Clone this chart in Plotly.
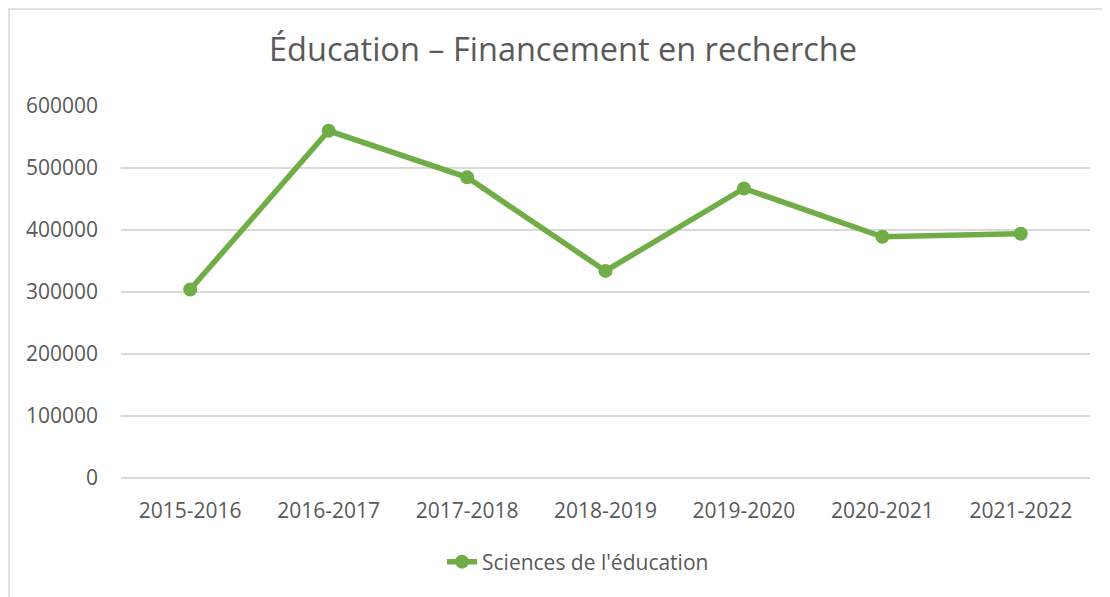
import plotly.graph_objects as go

categories = ["2015-2016", "2016-2017", "2017-2018", "2018-2019", "2019-2020", "2020-2021", "2021-2022"]
values = [304000, 560000, 485000, 334000, 467000, 389000, 394000]
series_name = "Sciences de l'éducation"
title_text = "Éducation – Financement en recherche"
y_ticks = [0, 100000, 200000, 300000, 400000, 500000, 600000]

GREEN = "#70AD47"
TXT = "#595959"
GRID = "#D9D9D9"
FONT = "Open Sans"

W, H = 1110, 597
L, R, T, B = 113, 28, 98, 127
PW, PH = W - L - R, H - T - B

fig = go.Figure()
fig.add_trace(go.Scatter(
    x=categories, y=values, mode="lines+markers", name=series_name,
    line=dict(color=GREEN, width=5.5),
    marker=dict(color=GREEN, size=14),
))

fig.update_layout(
    width=W, height=H,
    margin=dict(l=L, r=R, t=T, b=B, autoexpand=False),
    paper_bgcolor="white", plot_bgcolor="white",
    title=dict(text=title_text, x=0.5, xanchor="center", xref="container",
               y=1 - 42/H, yanchor="middle", yref="container",
               font=dict(family=FONT, size=32.5, color=TXT)),
    font=dict(family=FONT, color=TXT, size=21),
    showlegend=True,
    legend=dict(orientation="h", x=(570 - L)/PW, xanchor="center",
                y=-(554 - 470)/PH, yanchor="middle",
                font=dict(family=FONT, size=21, color=TXT), bgcolor="rgba(0,0,0,0)"),
    xaxis=dict(type="category", range=[-0.5, len(categories) - 0.5],
               showgrid=False, showline=False, zeroline=False,
               ticks="", ticklabelstandoff=18, tickangle=0,
               tickfont=dict(family=FONT, size=21, color=TXT)),
    yaxis=dict(range=[0, 600000], tickvals=y_ticks, ticktext=[str(v) for v in y_ticks],
               showgrid=True, gridcolor=GRID, gridwidth=1.5,
               zeroline=True, zerolinecolor=GRID, zerolinewidth=1.5,
               showline=False, ticks="", ticklabelstandoff=22,
               tickfont=dict(family=FONT, size=21, color=TXT)),
    shapes=[dict(type="rect", xref="paper", yref="paper",
                 x0=(1 - L)/PW, x1=(W + 20 - L)/PW,
                 y0=-0.5, y1=1 + (T - 1)/PH,
                 line=dict(color=GRID, width=1.5), fillcolor="rgba(0,0,0,0)", layer="below")],
)

fig.write_html("out.html")
